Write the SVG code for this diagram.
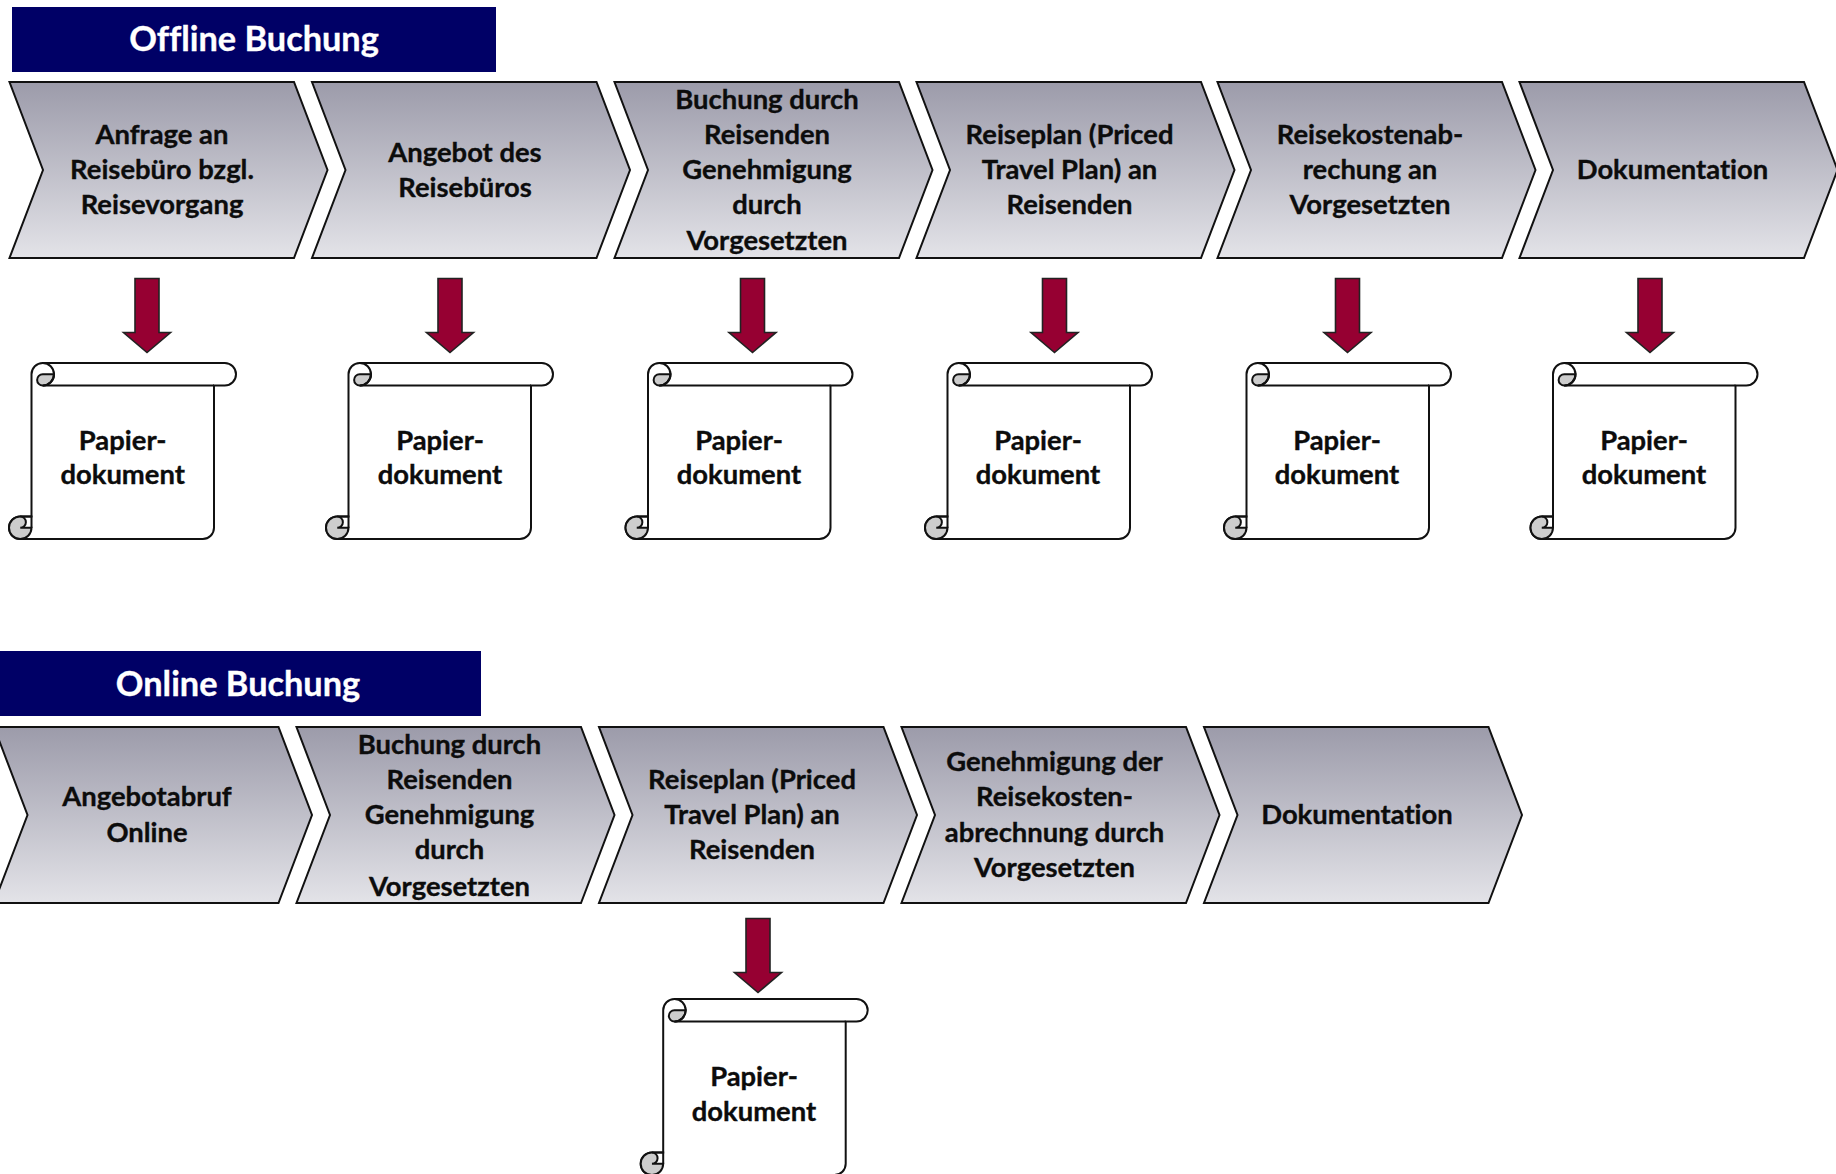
<svg xmlns="http://www.w3.org/2000/svg" width="1836" height="1174" viewBox="0 0 1836 1174">
<style>
text{font-family:"Lato","Carlito","Liberation Sans",sans-serif;font-weight:700;text-anchor:middle;fill:#0c0c0c;font-size:27.4px;stroke:#0c0c0c;stroke-width:.35px;font-variant-ligatures:none}
.hd{fill:#fff;stroke:#fff;font-size:34.3px}
.banner{fill:#000066}
.chev{fill:url(#cg);stroke:#111;stroke-width:2;stroke-linejoin:miter}
.arr{fill:#960032;stroke:#222;stroke-width:1.6}
.s{fill:#fff;stroke:#111;stroke-width:2}
.d{fill:#cdcdcd;stroke:#111;stroke-width:2}
.n{fill:none;stroke:#111;stroke-width:2}
</style>
<defs>
<linearGradient id="cg" x1="0" y1="0" x2="0" y2="1"><stop offset="0" stop-color="#9c9baa"/><stop offset="1" stop-color="#e3e3e8"/></linearGradient>
<path id="chevron" class="chev" d="M0,0H284.500L318,88L284.500,176H0L33.500,88Z"/>
<g id="scroll">
<path class="s" d="M22.500,153.500V11.250A11.250,11.250 0 0 1 33.750,0H215.750A11.250,11.250 0 0 1 215.750,22.500H205V164.750A11.250,11.250 0 0 1 193.750,176H11.250A11.250,11.250 0 0 1 11.250,153.500H22.500Z"/>
<path class="n" d="M33.750,22.500H205"/>
<path class="d" d="M45,11.250A11.250,11.250 0 0 1 33.750,22.500A5.600,5.600 0 0 1 33.750,11.250Z"/>
<path class="n" d="M33.750,0A11.250,11.250 0 0 1 33.750,22.500"/>
<path class="d" d="M11.250,153.500A11.250,11.250 0 0 0 11.250,176A11.250,11.250 0 0 0 22.500,164.750H11.250A5.600,5.600 0 0 0 11.250,153.500Z"/>
<path class="n" d="M11.250,153.500H22.500V164.750"/>
</g>
<path id="arrow" class="arr" d="M-12,0H12V54H23.500L0,74L-23.500,54H-12Z"/>
</defs>

<g id="header-offline"><rect class="banner" x="12" y="7" width="484" height="65"/><text class="hd" x="254" y="51">Offline Buchung</text></g>
<g id="header-online"><rect class="banner" x="0" y="651" width="481" height="65"/><text class="hd" x="238" y="696">Online Buchung</text></g>

<g id="connectors">
<use href="#arrow" x="147" y="278.500"/>
<use href="#arrow" x="450" y="278.500"/>
<use href="#arrow" x="752.500" y="278.500"/>
<use href="#arrow" x="1054.500" y="278.500"/>
<use href="#arrow" x="1347.500" y="278.500"/>
<use href="#arrow" x="1650" y="278.500"/>
<use href="#arrow" x="758" y="918.500"/>
</g>

<g id="o1"><use href="#chevron" x="9.500" y="82"/><text><tspan x="162" y="144">Anfrage an</tspan><tspan x="162" y="179">Reisebüro bzgl.</tspan><tspan x="162" y="214">Reisevorgang</tspan></text></g>
<g id="o2"><use href="#chevron" x="312" y="82"/><text><tspan x="465" y="162">Angebot des</tspan><tspan x="465" y="197">Reisebüros</tspan></text></g>
<g id="o3"><use href="#chevron" x="614.500" y="82"/><text><tspan x="767" y="109">Buchung durch</tspan><tspan x="767" y="144">Reisenden</tspan><tspan x="767" y="179">Genehmigung</tspan><tspan x="767" y="214">durch</tspan><tspan x="767" y="250">Vorgesetzten</tspan></text></g>
<g id="o4"><use href="#chevron" x="916.500" y="82"/><text><tspan x="1069.500" y="144">Reiseplan (Priced</tspan><tspan x="1069.500" y="179">Travel Plan) an</tspan><tspan x="1069.500" y="214">Reisenden</tspan></text></g>
<g id="o5"><use href="#chevron" x="1217.500" y="82"/><text><tspan x="1370" y="144">Reisekostenab-</tspan><tspan x="1370" y="179">rechung an</tspan><tspan x="1370" y="214">Vorgesetzten</tspan></text></g>
<g id="o6"><use href="#chevron" x="1519.500" y="82"/><text x="1672.500" y="179">Dokumentation</text></g>

<g id="d1"><use href="#scroll" x="9" y="363"/><text><tspan x="122.700" y="449.500">Papier-</tspan><tspan x="122.700" y="484">dokument</tspan></text></g>
<g id="d2"><use href="#scroll" x="326" y="363"/><text><tspan x="440" y="449.500">Papier-</tspan><tspan x="440" y="484">dokument</tspan></text></g>
<g id="d3"><use href="#scroll" x="625.500" y="363"/><text><tspan x="739" y="449.500">Papier-</tspan><tspan x="739" y="484">dokument</tspan></text></g>
<g id="d4"><use href="#scroll" x="925" y="363"/><text><tspan x="1038" y="449.500">Papier-</tspan><tspan x="1038" y="484">dokument</tspan></text></g>
<g id="d5"><use href="#scroll" x="1224" y="363"/><text><tspan x="1337" y="449.500">Papier-</tspan><tspan x="1337" y="484">dokument</tspan></text></g>
<g id="d6"><use href="#scroll" x="1530.500" y="363"/><text><tspan x="1644" y="449.500">Papier-</tspan><tspan x="1644" y="484">dokument</tspan></text></g>

<g id="n1"><use href="#chevron" x="-6" y="727"/><text><tspan x="147" y="806">Angebotabruf</tspan><tspan x="147" y="842">Online</tspan></text></g>
<g id="n2"><use href="#chevron" x="296.500" y="727"/><text><tspan x="449.500" y="754">Buchung durch</tspan><tspan x="449.500" y="789">Reisenden</tspan><tspan x="449.500" y="824">Genehmigung</tspan><tspan x="449.500" y="859">durch</tspan><tspan x="449.500" y="896">Vorgesetzten</tspan></text></g>
<g id="n3"><use href="#chevron" x="599" y="727"/><text><tspan x="752" y="789">Reiseplan (Priced</tspan><tspan x="752" y="824">Travel Plan) an</tspan><tspan x="752" y="859">Reisenden</tspan></text></g>
<g id="n4"><use href="#chevron" x="901.500" y="727"/><text><tspan x="1054.500" y="771">Genehmigung der</tspan><tspan x="1054.500" y="806">Reisekosten-</tspan><tspan x="1054.500" y="842">abrechnung durch</tspan><tspan x="1054.500" y="877">Vorgesetzten</tspan></text></g>
<g id="n5"><use href="#chevron" x="1204" y="727"/><text x="1357" y="824">Dokumentation</text></g>

<g id="d7"><use href="#scroll" x="640.700" y="999"/><text><tspan x="754" y="1085.500">Papier-</tspan><tspan x="754" y="1121">dokument</tspan></text></g>
</svg>
